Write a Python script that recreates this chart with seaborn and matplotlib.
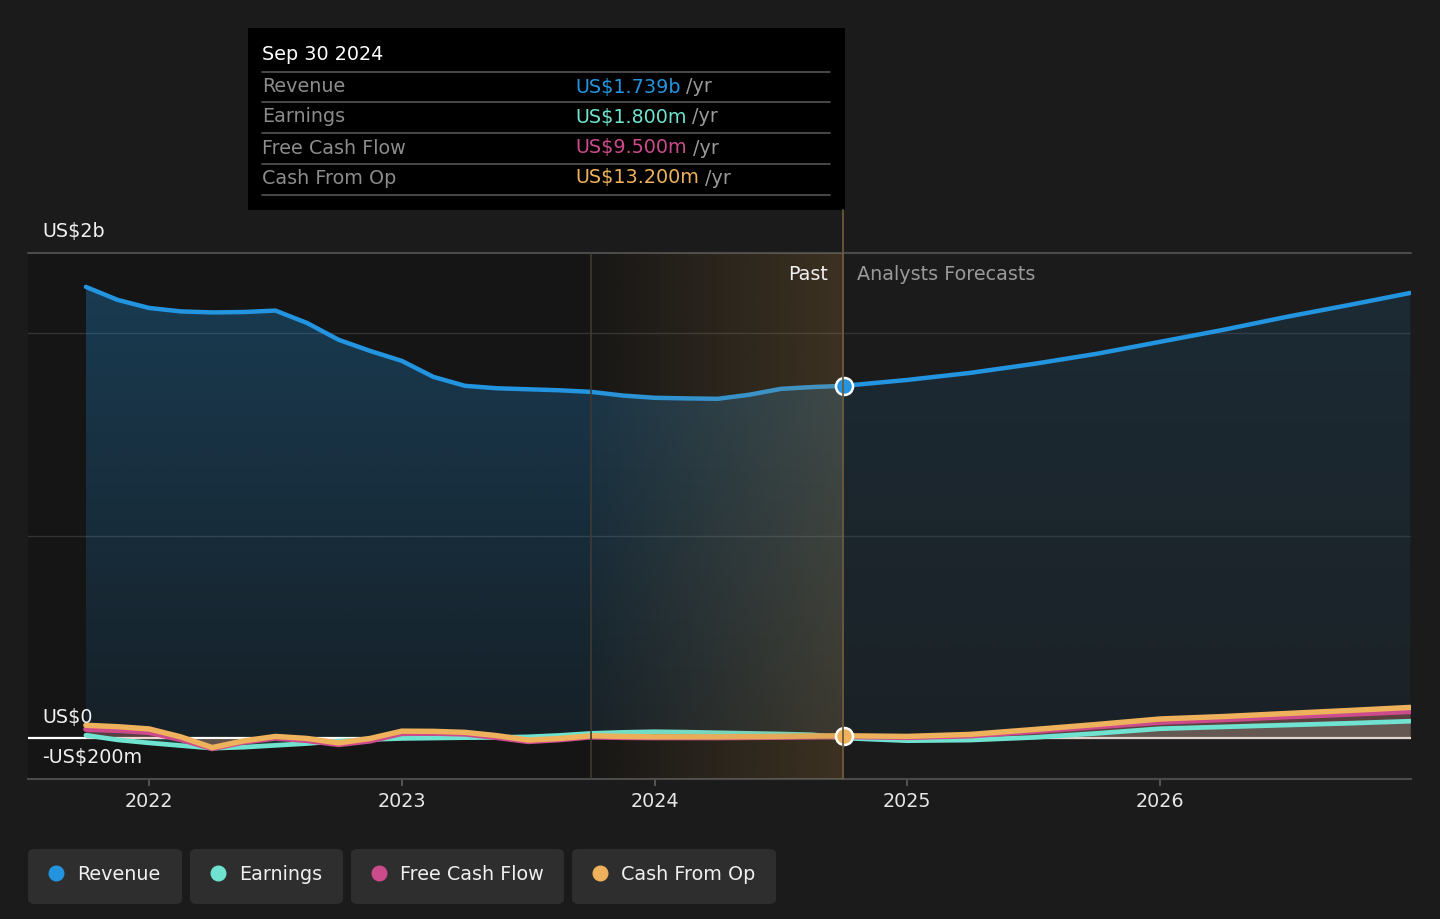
import numpy as np
import pandas as pd
import matplotlib
matplotlib.use("Agg")
import matplotlib.pyplot as plt
import seaborn as sns
from matplotlib.patches import Rectangle, FancyBboxPatch
from matplotlib.lines import Line2D

# ---------------- data (US$ billions) ----------------
past_years = [2021.75, 2021.875, 2022.0, 2022.125, 2022.25, 2022.375, 2022.5,
              2022.625, 2022.75, 2022.875, 2023.0, 2023.125, 2023.25, 2023.375,
              2023.5, 2023.625, 2023.75, 2023.875, 2024.0, 2024.125, 2024.25,
              2024.375, 2024.5, 2024.625, 2024.75]
fc_years = [2024.75, 2025.0, 2025.25, 2025.5, 2025.75, 2026.0, 2026.25,
            2026.5, 2026.75, 2026.99]

revenue_past = [2.227, 2.163, 2.123, 2.106, 2.101, 2.103, 2.110, 2.049, 1.966,
                1.911, 1.862, 1.783, 1.739, 1.727, 1.722, 1.717, 1.709, 1.691,
                1.680, 1.677, 1.675, 1.695, 1.724, 1.733, 1.739]
revenue_fc = [1.739, 1.768, 1.803, 1.847, 1.897, 1.956, 2.015, 2.079, 2.138, 2.197]

earnings_past = [0.016, -0.007, -0.022, -0.035, -0.048, -0.043, -0.034, -0.025,
                 -0.013, -0.005, 0.000, 0.002, 0.004, 0.005, 0.008, 0.015, 0.025,
                 0.030, 0.033, 0.031, 0.028, 0.025, 0.022, 0.018, 0.0018]
earnings_fc = [0.0018, -0.011, -0.008, 0.005, 0.025, 0.048, 0.057, 0.066, 0.075, 0.085]

fcf_past = [0.045, 0.040, 0.030, -0.005, -0.050, -0.018, 0.002, -0.010, -0.030,
            -0.012, 0.025, 0.026, 0.022, 0.005, -0.015, -0.006, 0.008, 0.005,
            0.004, 0.004, 0.004, 0.005, 0.006, 0.008, 0.0095]
fcf_fc = [0.0095, 0.005, 0.013, 0.035, 0.058, 0.080, 0.093, 0.107, 0.120, 0.133]

cfo_past = [0.065, 0.058, 0.047, 0.008, -0.045, -0.012, 0.010, 0.000, -0.022,
            0.000, 0.036, 0.035, 0.030, 0.014, -0.008, 0.000, 0.013, 0.010,
            0.008, 0.008, 0.008, 0.009, 0.010, 0.012, 0.0132]
cfo_fc = [0.0132, 0.010, 0.020, 0.044, 0.069, 0.096, 0.108, 0.123, 0.138, 0.153]

series_names = ["Revenue", "Earnings", "Free Cash Flow", "Cash From Op"]
colors = {"Revenue": "#2394df", "Earnings": "#6fe3cf",
          "Free Cash Flow": "#cc4b8c", "Cash From Op": "#efb25c"}
tooltip_date = "Sep 30 2024"
tooltip_values = ["US$1.739b", "US$1.800m", "US$9.500m", "US$13.200m"]
x_ticks = [2022, 2023, 2024, 2025, 2026]
y_labels = ["US$2b", "US$0", "-US$200m"]

# ---------------- style ----------------
sns.set_theme(style="dark")
plt.rcParams["font.family"] = ["DejaVu Sans"]
BG = "#1b1b1b"
W, H = 1440, 919
fig = plt.figure(figsize=(W / 100, H / 100), dpi=100, facecolor=BG)

def F(x, y):
    return (x / W, 1 - y / H)

ax_l, ax_r, ax_t, ax_b = 28, 1411, 253, 779
ax = fig.add_axes([ax_l / W, 1 - ax_b / H, (ax_r - ax_l) / W, (ax_b - ax_t) / H])
ax.set_facecolor(BG)

XMIN, XMAX = 2021.521, 2026.993
YMIN, YMAX = -0.2, 2.394
past_start, past_end = 2023.75, 2024.75

all_years = past_years + fc_years[1:]
vals = {
    "Revenue": revenue_past + revenue_fc[1:],
    "Earnings": earnings_past + earnings_fc[1:],
    "Free Cash Flow": fcf_past + fcf_fc[1:],
    "Cash From Op": cfo_past + cfo_fc[1:],
}
df = pd.DataFrame([(yr, name, v) for name in series_names
                   for yr, v in zip(all_years, vals[name])],
                  columns=["date", "series", "value"])

# past dark background
ax.axvspan(XMIN, past_end, color="#151515", zorder=0, lw=0)

# gridlines
for g in [1.0, 2.0]:
    ax.axhline(g, color="#333333", lw=1, zorder=1)
ax.axhline(YMAX, color="#4a4a4a", lw=1.5, zorder=1, clip_on=False)


def grad_fill(x, y, rgb, a_top, a_bot, z):
    x = np.asarray(x, float)
    y = np.asarray(y, float)
    poly = ax.fill_between(x, 0, y, facecolor="none", edgecolor="none")
    img = np.zeros((256, 1, 4))
    img[..., :3] = rgb
    img[..., 3] = np.linspace(a_top, a_bot, 256)[:, None]
    im = ax.imshow(img, aspect="auto", extent=[x.min(), x.max(), 0, y.max()],
                   origin="upper", zorder=z, interpolation="bilinear")
    im.set_clip_path(poly.get_paths()[0], transform=ax.transData)


rev_rgb = matplotlib.colors.to_rgb(colors["Revenue"])
grad_fill(past_years, revenue_past, rev_rgb, 0.30, 0.09, 2)
grad_fill(fc_years, revenue_fc, rev_rgb, 0.13, 0.06, 2)

# small series fills
for name in ["Earnings", "Free Cash Flow", "Cash From Op"]:
    ax.fill_between(all_years, 0, vals[name], color=colors[name], alpha=0.18,
                    lw=0, zorder=2.2)

# zero line
ax.axhline(0, color="white", lw=1.6, zorder=2.1)

# lines via seaborn
sns.lineplot(data=df, x="date", y="value", hue="series", hue_order=series_names,
             palette=colors, linewidth=3.9, ax=ax, legend=False, zorder=3,
             estimator=None, sort=True)
lines = ax.get_lines()[-4:]
for ln in lines:
    ln.set_solid_joinstyle("round")
lines[0].set_linewidth(3.2)
lines[1].set_linewidth(3.4)

# highlight gradient overlay (last twelve months)
hl = np.zeros((1, 256, 4))
hl[..., 0], hl[..., 1], hl[..., 2] = 181 / 255, 137 / 255, 73 / 255
hl[..., 3] = np.linspace(0.02, 0.25, 256)[None, :]
ax.imshow(hl, aspect="auto", extent=[past_start, past_end, YMIN, YMAX],
          origin="lower", zorder=4, interpolation="bilinear")
ax.axvline(past_start, color="#3f3a30", lw=1.2, zorder=4.1)

# vertical "now" line from tooltip to axis bottom
fig.add_artist(Line2D([843 / W, 843 / W], [1 - 210 / H, 1 - ax_b / H],
                      color="#6b5a3a", lw=1.3, zorder=6))

# marker dots
ax.scatter([past_years[-1]], [revenue_past[-1]], s=150, color=colors["Revenue"],
           edgecolor="white", linewidth=1.8, zorder=6)
ax.scatter([past_years[-1]], [cfo_past[-1]], s=150, color=colors["Cash From Op"],
           edgecolor="white", linewidth=1.8, zorder=6)

ax.set_xlim(XMIN, XMAX)
ax.set_ylim(YMIN, YMAX)
ax.set_xlabel("")
ax.set_ylabel("")
ax.set_yticks([])
ax.set_xticks(x_ticks)
ax.set_xticklabels([str(t) for t in x_ticks])
ax.tick_params(axis="x", colors="#555555", labelcolor="#e6e6e6", labelsize=13.8,
               length=5, width=1.4, pad=4.5, direction="out", bottom=True)
for s in ["top", "left", "right"]:
    ax.spines[s].set_visible(False)
ax.spines["bottom"].set_color("#4a4a4a")
ax.spines["bottom"].set_linewidth(1.5)
ax.grid(False)

FS = 13.8
# y labels
fig.text(*F(42, 232), y_labels[0], color="#f0f0f0", fontsize=FS, va="center", ha="left")
fig.text(*F(42, 718), y_labels[1], color="#f0f0f0", fontsize=FS, va="center", ha="left")
fig.text(*F(42, 758), y_labels[2], color="#f0f0f0", fontsize=FS, va="center", ha="left")

# past / forecasts labels
fig.text(*F(828, 274), "Past", color="#f0f0f0", fontsize=FS, va="center", ha="right")
fig.text(*F(857, 274), "Analysts Forecasts", color="#9a9a9a", fontsize=FS,
         va="center", ha="left")

# tooltip
fig.add_artist(Rectangle(F(248, 210), (845 - 248) / W, (210 - 28) / H,
                         transform=fig.transFigure, facecolor="#000000",
                         edgecolor="none", zorder=5))
fig.text(*F(262, 55), tooltip_date, color="#ffffff", fontsize=FS, va="center",
         ha="left", zorder=7)
for yy in [72, 102, 133, 164, 195]:
    fig.add_artist(Line2D([262 / W, 830 / W], [1 - yy / H, 1 - yy / H],
                          color="#555555", lw=1.2, zorder=7))
row_y = [87, 117, 148, 178]
val_texts = []
for name, val, yy in zip(series_names, tooltip_values, row_y):
    fig.text(*F(262, yy), name, color="#8c8c8c", fontsize=FS, va="center",
             ha="left", zorder=7)
    t = fig.text(*F(575, yy), val, color=colors[name], fontsize=FS, va="center",
                 ha="left", zorder=7)
    val_texts.append((t, yy))
fig.canvas.draw()
rend = fig.canvas.get_renderer()
for t, yy in val_texts:
    bb = t.get_window_extent(renderer=rend)
    fig.text(bb.x1 / W + 6 / W, 1 - yy / H, "/yr", color="#9a9a9a", fontsize=FS,
             va="center", ha="left", zorder=7)

# legend chips
chips = [(28, 182), (190, 343), (351, 564), (572, 776)]
for (x0, x1), name in zip(chips, series_names):
    fig.add_artist(FancyBboxPatch(F(x0, 904), (x1 - x0) / W, (904 - 849) / H,
                                  boxstyle="round,pad=0,rounding_size=0.005",
                                  transform=fig.transFigure, facecolor="#2e2e2e",
                                  edgecolor="none", zorder=5))
    cx = x0 + 28
    fig.add_artist(Line2D([cx / W], [1 - 873 / H], marker="o", markersize=10.5,
                          color=colors[name], lw=0, zorder=6))
    fig.text(*F(x0 + 49, 874), name, color="#f0f0f0", fontsize=FS, va="center",
             ha="left", zorder=6)

fig.savefig("out.png", dpi=100, facecolor=BG)
